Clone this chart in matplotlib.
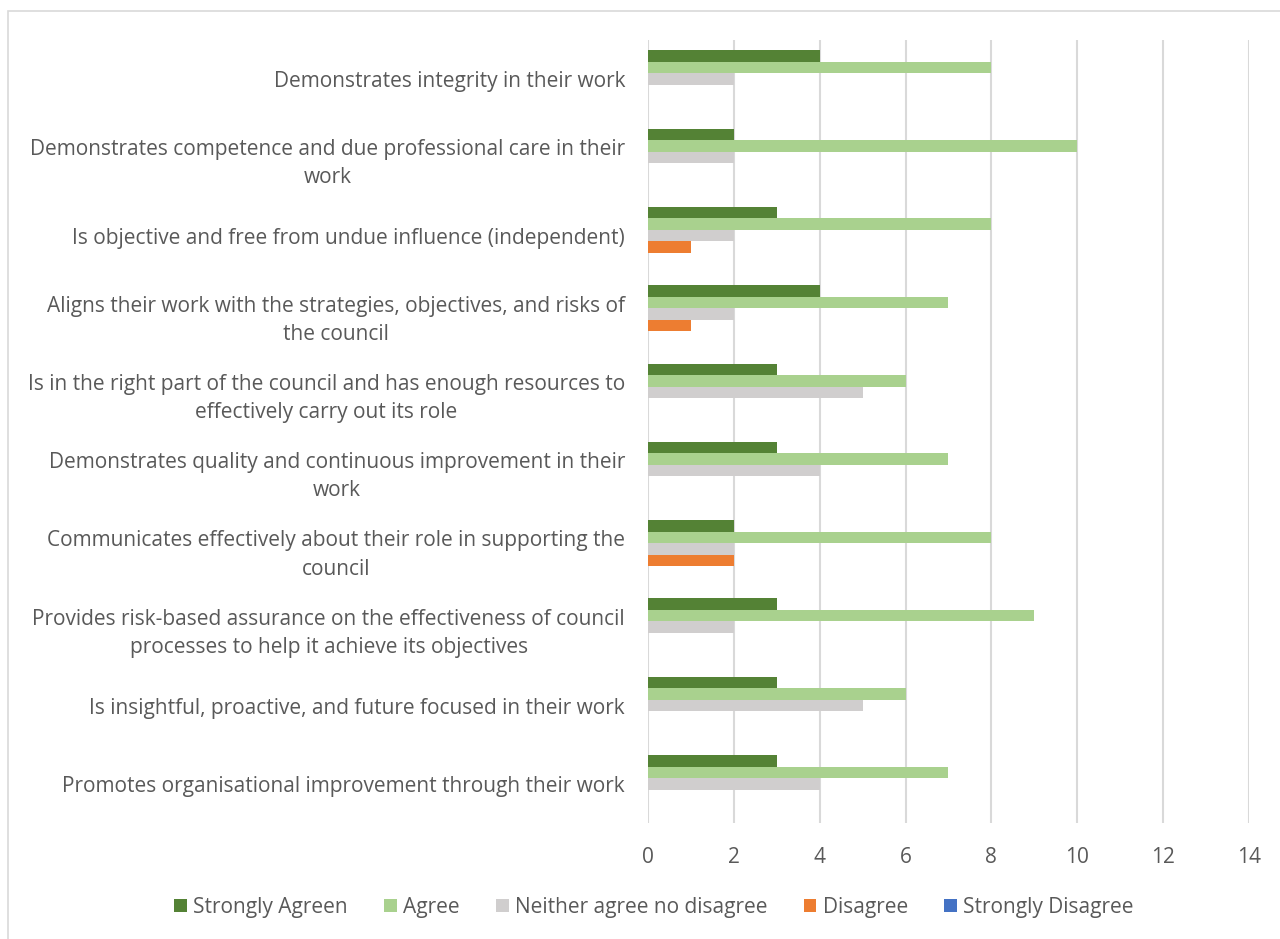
import matplotlib
matplotlib.use("Agg")
import matplotlib.pyplot as plt
import numpy as np
from matplotlib.patches import Patch, Rectangle

plt.rcParams["font.family"] = ["Open Sans", "DejaVu Sans"]

statements = [
    "Demonstrates integrity in their work",
    "Demonstrates competence and due professional care in their\nwork",
    "Is objective and free from undue influence (independent)",
    "Aligns their work with the strategies, objectives, and risks of\nthe council",
    "Is in the right part of the council and has enough resources to\neffectively carry out its role",
    "Demonstrates quality and continuous improvement in their\nwork",
    "Communicates effectively about their role in supporting the\ncouncil",
    "Provides risk-based assurance on the effectiveness of council\nprocesses to help it achieve its objectives",
    "Is insightful, proactive, and future focused in their work",
    "Promotes organisational improvement through their work",
]

strongly_agree = [4, 2, 3, 4, 3, 3, 2, 3, 3, 3]
agree = [8, 10, 8, 7, 6, 7, 8, 9, 6, 7]
neither = [2, 2, 2, 2, 5, 4, 2, 2, 5, 4]
disagree = [0, 0, 1, 1, 0, 0, 2, 0, 0, 0]
strongly_disagree = [0, 0, 0, 0, 0, 0, 0, 0, 0, 0]

series_names = ["Strongly Agreen", "Agree", "Neither agree no disagree",
                "Disagree", "Strongly Disagree"]
series_values = [strongly_agree, agree, neither, disagree, strongly_disagree]
colors = ["#548235", "#a9d18e", "#d0cece", "#ed7d31", "#4472c4"]

text_color = "#595959"
grid_color = "#d9d9d9"

fig = plt.figure(figsize=(12.8, 9.39), dpi=100)
ax = fig.add_axes([0.50625, 0.1235, 0.4695, 0.834])

# outer chart frame (only left and top edges fall inside the image)
fig.patches.append(Rectangle((8 / 1280, -0.1), 1.2, 1 - 11 / 939 + 0.1,
                             transform=fig.transFigure, fill=False,
                             edgecolor=grid_color, linewidth=1.2))

y = np.arange(len(statements))
h = 0.147
for j, (name, vals, col) in enumerate(zip(series_names, series_values, colors)):
    ax.barh(y + (j - 2) * h, vals, height=h, color=col, label=name, zorder=3)

ax.set_xlim(0, 14)
ax.set_xticks(range(0, 15, 2))
ax.set_ylim(len(statements) - 0.5, -0.5)
ax.set_yticks(y)
ax.set_yticklabels(statements, multialignment="center", linespacing=1.45)

ax.grid(axis="x", color=grid_color, linewidth=1.5, zorder=0)
ax.set_axisbelow(True)
for s in ax.spines.values():
    s.set_visible(False)
ax.tick_params(axis="both", length=0, labelsize=15, labelcolor=text_color)
ax.tick_params(axis="y", pad=16.5)
ax.tick_params(axis="x", pad=17)

handles = [Patch(facecolor=c, edgecolor="none") for c in colors]
fig.legend(handles, series_names, loc="center", ncol=5,
           bbox_to_anchor=(654 / 1280, 1 - 907 / 939), frameon=False,
           fontsize=15, labelcolor=text_color, handlelength=0.6,
           handleheight=0.6, handletextpad=0.3, columnspacing=1.75)

fig.savefig("out.png", dpi=100, facecolor="white")
